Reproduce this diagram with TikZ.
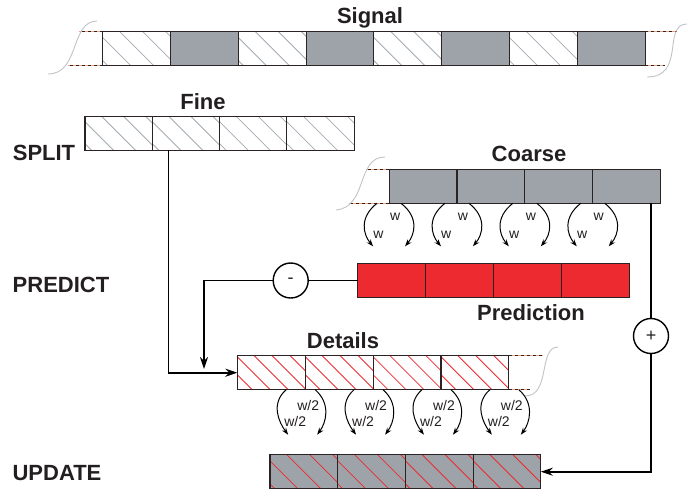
\documentclass[tikz,border=0pt]{standalone}
\usepackage{fontspec}
\setmainfont{Liberation Sans}
\usetikzlibrary{arrows.meta,calc}
\definecolor{barfill}{HTML}{9DA3A9}
\definecolor{barred}{HTML}{EC2A30}
\definecolor{edge}{HTML}{2B2323}
\definecolor{hatchgray}{HTML}{A3AAB1}
\definecolor{tailgray}{HTML}{BFC3CA}
\definecolor{dashorange}{HTML}{F2A27A}
\definecolor{ink}{HTML}{231F20}
\tikzset{
  cell/.style={draw=edge,line width=1.1pt,minimum width=67.8pt,minimum height=34pt,inner sep=0pt,outer sep=0pt},
  hatch/.style 2 args={path picture={
      \foreach \k in {-5,...,5}
        \draw[#1,line width=0.8pt] ($(path picture bounding box.center)+({\k*#2pt-30pt},30pt)$) -- ++(60pt,-60pt);}},
  barlabel/.style={font=\bfseries\fontsize{22}{26}\selectfont,text=ink,inner sep=0pt,anchor=base},
  wlabel/.style={font=\fontsize{14}{16}\selectfont,text=ink,inner sep=0pt,anchor=base},
  opnode/.style={circle,draw=black,line width=1.4pt,minimum size=35pt,inner sep=0pt,font=\fontsize{18}{18}\selectfont,text=ink},
  wire/.style={line width=1.6pt},
  flow/.style={wire,-{Stealth[length=12pt,width=8pt]}},
  lift/.style={line width=1pt,-{Stealth[length=7pt,width=5pt]}},
  looseend/.style={dashorange,line width=1.1pt,postaction={draw=edge,dash pattern=on 3pt off 3pt}},
  tailcurve/.style={tailgray,line width=0.9pt},
}
\begin{document}
\begin{tikzpicture}[x=1pt,y=-1pt]
  \useasboundingbox (0,0) rectangle (687,492);

  % signal
  \foreach \i in {1,3,5,7}
    \node[cell,hatch={hatchgray}{23}] (s\i) at ({102.7+67.8*\i-33.9},48.5) {};
  \foreach \i in {2,4,6,8}
    \node[cell,fill=barfill] (s\i) at ({102.7+67.8*\i-33.9},48.5) {};
  \node[barlabel] (signal) at (370,24) {Signal};
  \draw[looseend] (s1.north west) -- ++(-24,0);
  \draw[looseend] (s1.south west) -- ++(-35,0);
  \draw[looseend] (s8.north east) -- ++(32,0);
  \draw[looseend] (s8.south east) -- ++(20,0);
  \draw[tailcurve] (97,21) .. controls (70,21) and (80,74) .. (48,74);
  \draw[tailcurve] (687,24) .. controls (662,24) and (686,77) .. (647,77);

  % split
  \foreach \i in {1,...,4}
    \node[cell,minimum width=67.3pt,hatch={hatchgray}{22}] (f\i) at ({85+67.3*\i-33.65},133.4) {};
  \node[barlabel] (fine) at (203,109.3) {Fine};
  \node[barlabel] (split) at (44,160) {SPLIT};

  % coarse
  \foreach \i in {1,...,4}
    \node[cell,fill=barfill] (c\i) at ({389+67.9*\i-33.95},186.3) {};
  \node[barlabel] (coarse) at (529,161.7) {Coarse};
  \draw[looseend] (c1.north west) -- ++(-23,0);
  \draw[looseend] (c1.south west) -- ++(-40,0);
  \draw[tailcurve] (385,157) .. controls (356,157) and (368,207) .. (336,210);

  % predict
  \foreach \i in {1,...,4}
    \node[cell,fill=barred] (p\i) at ({357.7+67.9*\i-33.95},280.5) {};
  \node[barlabel] (prediction) at (531,320.7) {Prediction};
  \node[barlabel] (predict) at (61,292.3) {PREDICT};
  \node[opnode] (minus) at (290.7,280.5) {-};

  % details
  \foreach \i in {1,...,4}
    \node[cell,hatch={barred}{18}] (d\i) at ({237.3+67.9*\i-33.95},372.7) {};
  \node[barlabel] (details) at (343,348.3) {Details};
  \draw[looseend] (d4.north east) -- ++(34,0);
  \draw[looseend] (d4.south east) -- ++(21,0);
  \draw[tailcurve] (558,347) .. controls (538,347) and (551,396) .. (525,396);

  % update
  \foreach \i in {1,...,4}
    \node[cell,fill=barfill,hatch={barred}{23}] (u\i) at ({270+67.7*\i-33.85},471.7) {};
  \node[barlabel] (update) at (57,480) {UPDATE};
  \node[opnode] (plus) at (651,336) {+};

  % weights
  \foreach \i in {1,...,4} {
    \draw[lift] ([xshift=-12pt]c\i.south west) .. controls +(-18,14) and +(-10,-12) .. ++(-4,43);
    \draw[lift] ([xshift=12pt]c\i.south west) .. controls +(18,14) and +(10,-12) .. ++(4,43);
    \node[wlabel] (wa\i) at ([xshift=6pt,yshift=-16.7pt]c\i.south west) {w};
    \node[wlabel] (wb\i) at ([xshift=-10.7pt,yshift=-35pt]c\i.south west) {w};
    \draw[lift] ([xshift=-19pt]d\i.south east) .. controls +(-16,14) and +(-9,-12) .. ++(2,45);
    \draw[lift] ([xshift=10pt]d\i.south east) .. controls +(16,14) and +(9,-12) .. ++(2,45);
    \node[wlabel] (ha\i) at ([xshift=3pt,yshift=-20.3pt]d\i.south east) {w/2};
    \node[wlabel] (hb\i) at ([xshift=-10pt,yshift=-36.3pt]d\i.south east) {w/2};
  }

  % connections
  \coordinate (drop) at (204,369);
  \draw[flow] ([xshift=16pt]f2.south west) |- (d1.west);
  \draw[wire] (p1.west) -- (minus);
  \draw[flow] (minus.west) -| (drop);
  \draw[wire] (c4.south -| plus) -- (plus);
  \draw[flow] (plus) |- (u4.east);
\end{tikzpicture}
\end{document}
